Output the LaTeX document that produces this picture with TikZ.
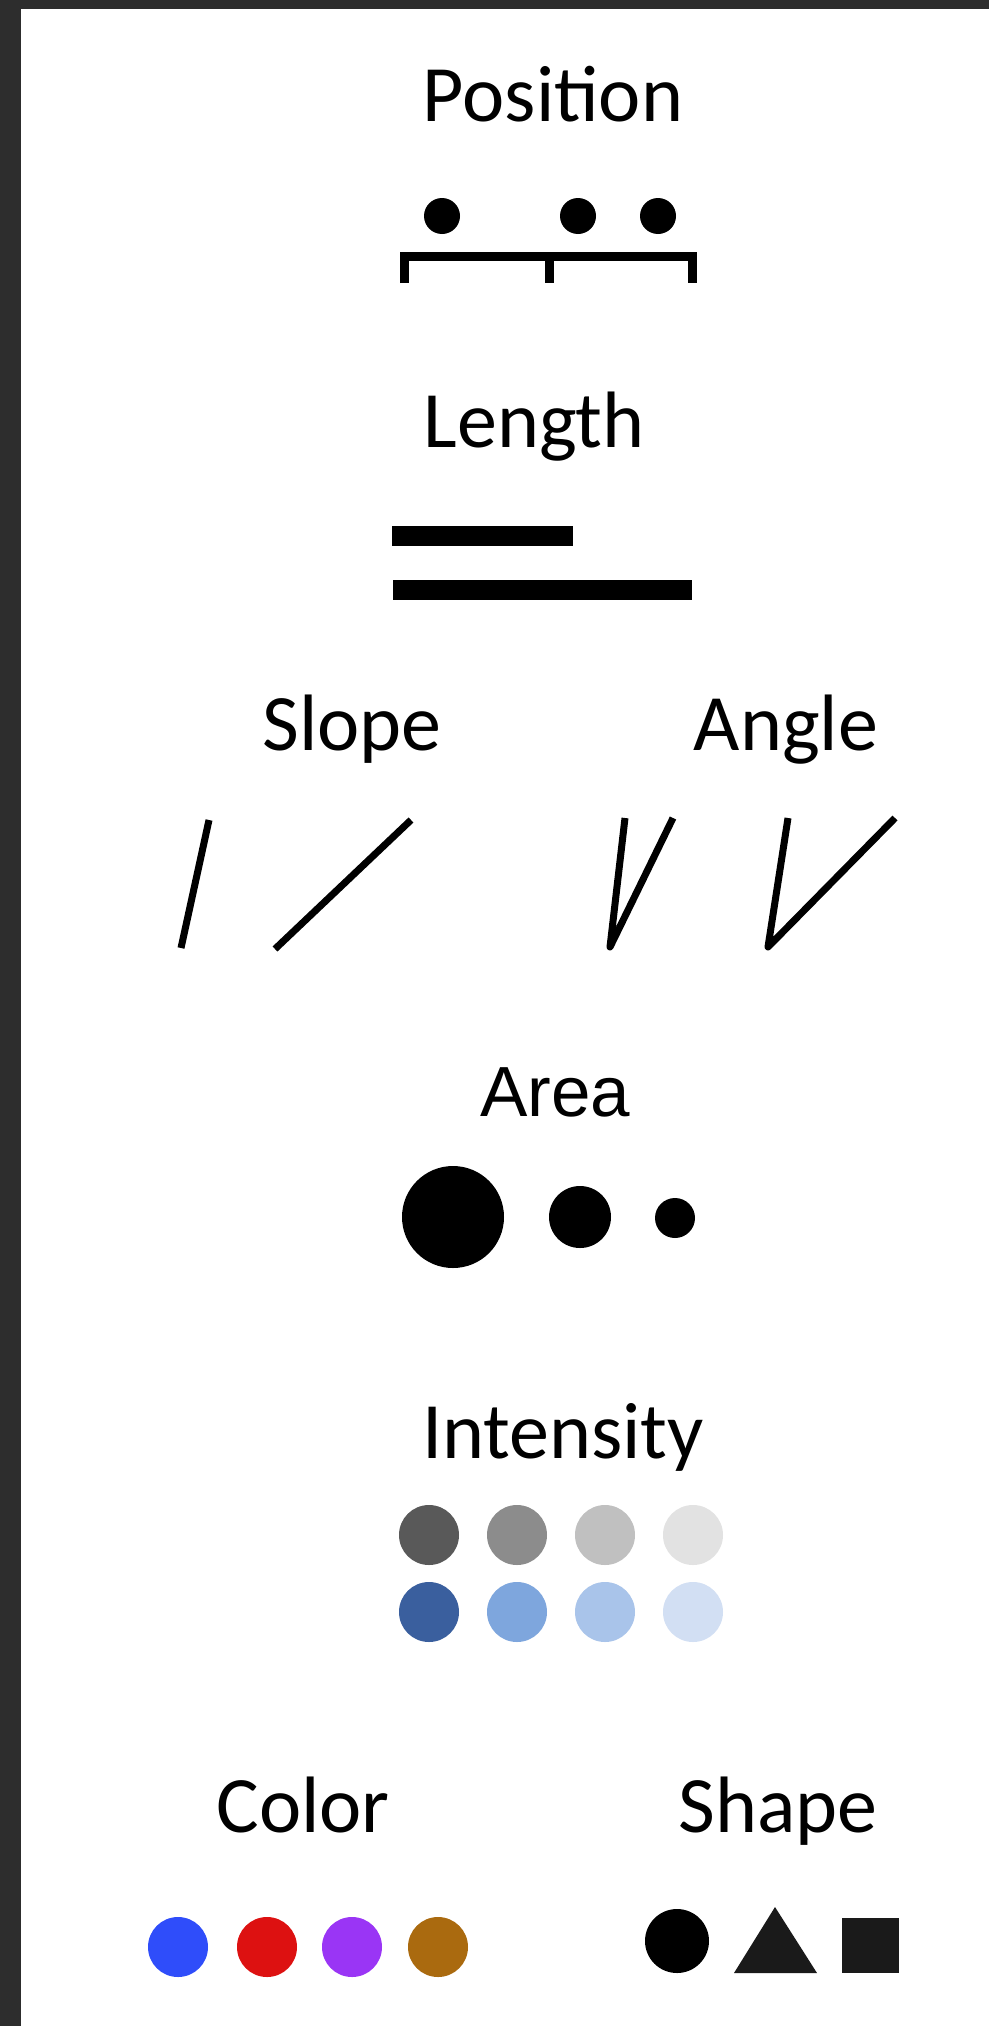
\documentclass[tikz,border=0pt]{standalone}
\usepackage{fontspec}
\setmainfont{Carlito}
\newfontfamily\arealfont{Liberation Sans}
\definecolor{frame}{HTML}{2D2D2D}
\definecolor{shapegray}{HTML}{1A1A1A}
\definecolor{g1}{HTML}{595959}
\definecolor{g2}{HTML}{8C8C8C}
\definecolor{g3}{HTML}{C0C0C0}
\definecolor{g4}{HTML}{E2E2E2}
\definecolor{b1}{HTML}{3A5F9E}
\definecolor{b2}{HTML}{7EA6DD}
\definecolor{b3}{HTML}{A9C4EA}
\definecolor{b4}{HTML}{D2DFF3}
\definecolor{cblue}{HTML}{2F4DFA}
\definecolor{cred}{HTML}{DD1111}
\definecolor{cpurple}{HTML}{9A35F5}
\definecolor{cbrown}{HTML}{AA6A0F}
\begin{document}
\begin{tikzpicture}[x=1pt,y=-1pt,
  label/.style={anchor=base,inner sep=0pt,font=\fontsize{80}{96}\selectfont},
  dot/.style={circle,fill=black,draw=none,inner sep=0pt,minimum size=#1},
  stroke/.style={line width=7pt,line cap=butt,line join=round}]
\useasboundingbox (0,0) rectangle (989,2026);
\fill[white] (0,0) rectangle (989,2026);
\fill[frame] (0,0) rectangle (21,2026);
\fill[frame] (0,0) rectangle (989,9);

% Position
\node[label] (tpos) at (553,121) {Position};
\node[dot=36pt] (pd1) at (442,216) {};
\node[dot=36pt] (pd2) at (578,216) {};
\node[dot=36pt] (pd3) at (658,216) {};
\draw[line width=9pt,line join=miter] (404.5,283) -- (404.5,256) -- (692.5,256) -- (692.5,283);
\draw[line width=9pt] (549,256) -- (549,283);

% Length
\node[label] (tlen) at (534,447) {Length};
\fill (392,526) rectangle (573,546);
\fill (393,580) rectangle (692,600);

% Slope
\node[label] (tslope) at (352,750) {Slope};
\draw[stroke] (181,948) -- (209,820);
\draw[stroke] (275,949) -- (411,820);

% Angle
\node[label] (tangle) at (786,750) {Angle};
\draw[stroke] (625,818) -- (610,947) -- (673,818);
\draw[stroke] (788,818) -- (768,947) -- (895,818);

% Area
\node[label,font=\arealfont\fontsize{71}{85}\selectfont] (tarea) at (555,1116) {Area};
\node[dot=102pt] (a1) at (453,1217) {};
\node[dot=62pt] (a2) at (580,1217) {};
\node[dot=40pt] (a3) at (675,1218) {};

% Intensity
\node[label] (tint) at (563,1458) {Intensity};
\node[dot=60pt,fill=g1] (i1) at (429,1535) {};
\node[dot=60pt,fill=g2] (i2) at (517,1535) {};
\node[dot=60pt,fill=g3] (i3) at (605,1535) {};
\node[dot=60pt,fill=g4] (i4) at (693,1535) {};
\node[dot=60pt,fill=b1] (j1) at (429,1612) {};
\node[dot=60pt,fill=b2] (j2) at (517,1612) {};
\node[dot=60pt,fill=b3] (j3) at (605,1612) {};
\node[dot=60pt,fill=b4] (j4) at (693,1612) {};

% Color
\node[label] (tcolor) at (303,1832) {Color};
\node[dot=60pt,fill=cblue] (c1) at (178,1947) {};
\node[dot=60pt,fill=cred] (c2) at (267,1947) {};
\node[dot=60pt,fill=cpurple] (c3) at (352,1947) {};
\node[dot=60pt,fill=cbrown] (c4) at (438,1947) {};

% Shape
\node[label] (tshape) at (778,1832) {Shape};
\node[dot=64pt] (s1) at (677,1941) {};
\fill[shapegray] (775,1907) -- (817,1973) -- (734,1973) -- cycle;
\fill[shapegray] (842,1918) rectangle (899,1973);
\end{tikzpicture}
\end{document}
